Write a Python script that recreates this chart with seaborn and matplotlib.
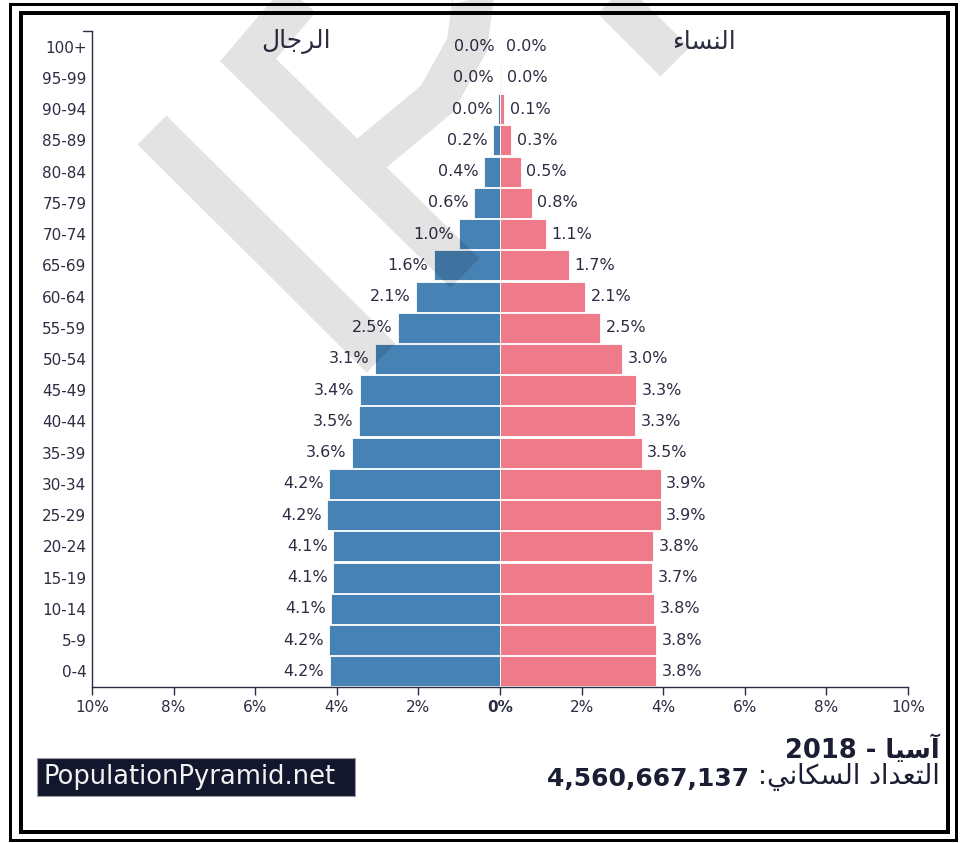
import matplotlib
matplotlib.use("Agg")
import matplotlib.pyplot as plt
from matplotlib.lines import Line2D
from matplotlib.patches import Rectangle
from matplotlib.transforms import IdentityTransform
import seaborn as sns
import pandas as pd

# age groups, youngest first, and share of total population (%)
ages = ["0-4", "5-9", "10-14", "15-19", "20-24", "25-29", "30-34", "35-39",
        "40-44", "45-49", "50-54", "55-59", "60-64", "65-69", "70-74",
        "75-79", "80-84", "85-89", "90-94", "95-99", "100+"]
male = [4.17, 4.19, 4.13, 4.09, 4.09, 4.24, 4.19, 3.62, 3.46, 3.43, 3.06,
        2.50, 2.06, 1.62, 1.00, 0.63, 0.39, 0.17, 0.04, 0.01, 0.00]
female = [3.82, 3.82, 3.77, 3.73, 3.76, 3.94, 3.94, 3.47, 3.31, 3.33, 2.99,
          2.46, 2.08, 1.69, 1.12, 0.78, 0.51, 0.27, 0.10, 0.03, 0.01]
x_ticks = [-10, -8, -6, -4, -2, 0, 2, 4, 6, 8, 10]

men_label = "الرجال"
women_label = "النساء"
region = "آسيا"
year = "2018"
pop_label = "التعداد السكاني:"
population = "4,560,667,137"
site = "PopulationPyramid.net"

MALE_C = "#4682b4"
FEMALE_C = "#ef7a89"
INK = "#2b2d42"
DARK = "#1b1d33"

# matplotlib does not shape Arabic, so pick presentation forms by hand
# (isolated, final, initial, medial)
FORMS = {
    "ا": ("\uFE8D", "\uFE8E", None, None),
    "آ": ("\uFE81", "\uFE82", None, None),
    "د": ("\uFEA9", "\uFEAA", None, None),
    "ر": ("\uFEAD", "\uFEAE", None, None),
    "ء": ("\uFE80", None, None, None),
    "ل": ("\uFEDD", "\uFEDE", "\uFEDF", "\uFEE0"),
    "ج": ("\uFE9D", "\uFE9E", "\uFE9F", "\uFEA0"),
    "ن": ("\uFEE5", "\uFEE6", "\uFEE7", "\uFEE8"),
    "س": ("\uFEB1", "\uFEB2", "\uFEB3", "\uFEB4"),
    "ي": ("\uFEF1", "\uFEF2", "\uFEF3", "\uFEF4"),
    "ت": ("\uFE95", "\uFE96", "\uFE97", "\uFE98"),
    "ع": ("\uFEC9", "\uFECA", "\uFECB", "\uFECC"),
    "ك": ("\uFED9", "\uFEDA", "\uFEDB", "\uFEDC"),
}


def shape(s):
    out = []
    for i, ch in enumerate(s):
        if ch not in FORMS:
            out.append(ch)
            continue
        prev = s[i - 1] if i > 0 else ""
        nxt = s[i + 1] if i + 1 < len(s) else ""
        jp = prev in FORMS and FORMS[prev][2] is not None
        jn = FORMS[ch][2] is not None and nxt in FORMS and FORMS[nxt][1] is not None
        f = FORMS[ch]
        if jp and jn:
            out.append(f[3])
        elif jp:
            out.append(f[1])
        elif jn:
            out.append(f[2])
        else:
            out.append(f[0])
    return "".join(out)[::-1]


df = pd.DataFrame({"age": ages, "male": male, "female": female})
df["male_neg"] = -df["male"]
order = ages[::-1]

sns.set_style("white")
plt.rcParams["font.family"] = ["DejaVu Sans"]

W, H = 960, 843
fig = plt.figure(figsize=(W / 100, H / 100), dpi=100)
ax = fig.add_axes([92 / W, 1 - 687 / H, 816 / W, 656 / H])

sns.barplot(data=df, x="male_neg", y="age", order=order, orient="h",
            color=MALE_C, saturation=1, width=0.96, edgecolor="white",
            linewidth=0.6, errorbar=None, ax=ax)
sns.barplot(data=df, x="female", y="age", order=order, orient="h",
            color=FEMALE_C, saturation=1, width=0.96, edgecolor="white",
            linewidth=0.6, errorbar=None, ax=ax)

# value labels
for i, age in enumerate(order):
    row = df[df["age"] == age].iloc[0]
    ax.annotate(f"{row['male']:.1f}%", xy=(-row["male"], i), xytext=(-4, 0),
                textcoords="offset points", ha="right", va="center",
                fontsize=11.5, color=INK)
    ax.annotate(f"{row['female']:.1f}%", xy=(row["female"], i), xytext=(4, 0),
                textcoords="offset points", ha="left", va="center",
                fontsize=11.5, color=INK)

ax.set_xlim(-10, 10)
ax.set_ylim(len(ages) - 0.5, -0.5)
ax.set_xticks(x_ticks)
ax.set_xticklabels([f"{abs(v)}%" for v in x_ticks])
for lab in ax.get_xticklabels():
    if lab.get_text() == "0%":
        lab.set_fontweight("bold")
ax.set_xlabel("")
ax.set_ylabel("")
ax.tick_params(axis="x", length=6, width=1, color=INK, labelsize=11,
               labelcolor=INK, pad=3, direction="out", bottom=True)
ax.tick_params(axis="y", length=0, labelsize=11, labelcolor=INK, pad=4)
for side in ["top", "right"]:
    ax.spines[side].set_visible(False)
for side in ["left", "bottom"]:
    ax.spines[side].set_color(INK)
    ax.spines[side].set_linewidth(1)
# outer tick at the top of the age axis
ax.plot([-9 / 816, 0], [1, 1], transform=ax.transAxes, color=INK, lw=1,
        clip_on=False)

# sex headers
fig.text(296 / W, 1 - 42 / H, shape(men_label), ha="center", va="center",
         fontsize=18, color=INK)
fig.text(704 / W, 1 - 42 / H, shape(women_label), ha="center", va="center",
         fontsize=18, color=INK)

# title block at the bottom right
fig.text(940 / W, 1 - 750 / H, f"{year} - " + shape(region), ha="right",
         va="center", fontsize=18.5, fontweight="bold", color=DARK)
t = fig.text(940 / W, 1 - 777 / H, shape(pop_label), ha="right",
             va="center", fontsize=19.5, color=DARK)
fig.add_artist(plt.Annotation(population + " ", xy=(0, 0), xycoords=t,
                              ha="right", va="bottom", fontsize=18,
                              fontweight="bold", color=DARK))

# site badge
px = IdentityTransform()
fig.add_artist(Rectangle((37, H - 796), 318, 38, transform=px,
                         facecolor="#13172e", edgecolor="#9a9aa6", lw=0.8))
fig.text(43 / W, 1 - 777 / H, site, ha="left", va="center", fontsize=18.5,
         color="#f2f2f2", zorder=5)

# faint logo watermark over the plot
wm = dict(color="black", alpha=0.11, lw=41 * 0.72, solid_capstyle="butt",
          solid_joinstyle="miter", transform=px, zorder=10)
p_path = [(465, 273), (248, 60), (300, -1), (322, -27), (352, -50),
          (400, -60), (445, -45), (468, -20), (473, 0), (467, 45),
          (437, 99), (373, 152), (352, 170)]
for pts in [p_path, [(152, 130), (381, 358)], [(675, 62), (590, -23)]]:
    xs = [p[0] for p in pts]
    ys = [H - p[1] for p in pts]
    fig.add_artist(Line2D(xs, ys, **wm))

# double frame
fig.add_artist(Rectangle((10, H - 840), 946, 836, transform=px,
                         fill=False, edgecolor="black", lw=3 * 0.72))
fig.add_artist(Rectangle((21, H - 832), 927, 819, transform=px,
                         fill=False, edgecolor="black", lw=4 * 0.72))

fig.savefig("out.png", dpi=100, facecolor="white")
